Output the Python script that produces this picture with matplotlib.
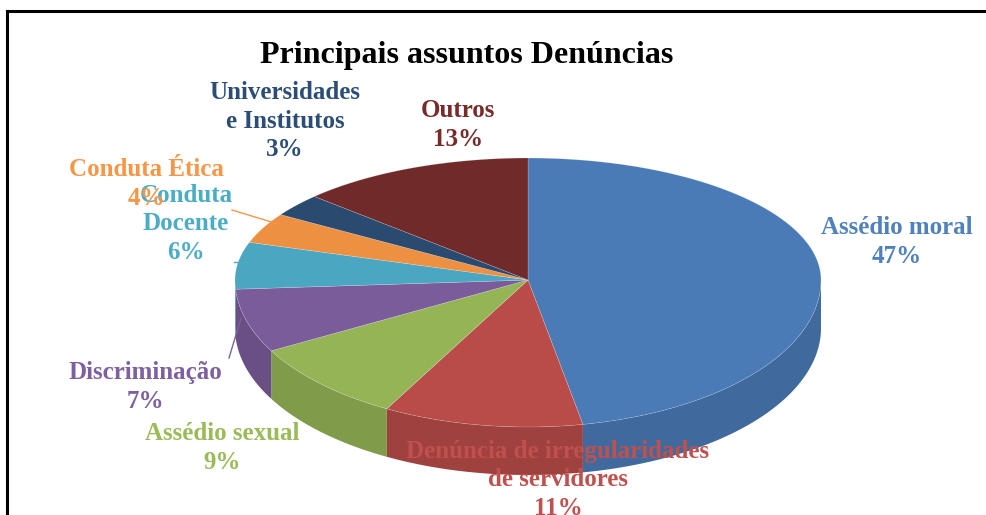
import numpy as np
import matplotlib
matplotlib.use("Agg")
import matplotlib.pyplot as plt
from matplotlib.lines import Line2D
from matplotlib.colors import to_rgb

# data
categories = [
    "Assédio moral",
    "Denúncia de irregularidades\nde servidores",
    "Assédio sexual",
    "Discriminação",
    "Conduta\nDocente",
    "Conduta Ética",
    "Universidades\ne Institutos",
    "Outros",
]
percent = [47, 11, 9, 7, 6, 4, 3, 13]
colors = ["#4a7bb7", "#b94b49", "#95b456", "#7a5c9a",
          "#4aa6c1", "#ee9042", "#2a4a70", "#712a2a"]
label_colors = ["#4f81bd", "#c0504d", "#9bbb59", "#7d60a0",
                "#4bacc6", "#f79646", "#2c4d75", "#772c2a"]
title = "Principais assuntos Denúncias"

W, H = 986, 515
SERIF = ["Liberation Serif", "DejaVu Serif"]


def darker(c, f=0.86):
    r, g, b = to_rgb(c)
    return (r * f, g * f, b * f)


def main():
    fig = plt.figure(figsize=(W / 100, H / 100), dpi=100)
    fig.patch.set_facecolor("white")

    # pie geometry in pixels: apex, radii of the tilted top face, wall depth
    cx, cy = 528, 280
    rx, ry_back, ry_front, depth = 293, 122, 147, 48

    ax = fig.add_axes([(cx - rx) / W, 1 - (cy + ry_front + depth) / H,
                       2 * rx / W, (ry_back + ry_front + depth) / H])
    ax.set_zorder(1)

    wedges, _ = ax.pie(percent, colors=colors, startangle=90, counterclock=False)

    def face_xy(t):
        # map the unit pie onto a perspective-like ellipse (back half flatter)
        s = np.sin(t)
        return rx * np.cos(t), np.where(s > 0, ry_back * s, ry_front * s)

    # side walls for the front half of the pie
    for w in wedges:
        lo, hi = max(w.theta1, -180), min(w.theta2, 0)
        if hi <= lo:
            continue
        t = np.radians(np.linspace(lo, hi, 80))
        xs, ys = face_xy(t)
        ax.fill(np.concatenate([xs, xs[::-1]]),
                np.concatenate([ys, ys[::-1] - depth]),
                color=darker(w.get_facecolor()), lw=0, zorder=1)

    # top faces, built from the wedges that ax.pie laid out
    for w in wedges:
        t = np.radians(np.linspace(w.theta1, w.theta2, 120))
        xs, ys = face_xy(t)
        ax.fill(np.concatenate([[0], xs]), np.concatenate([[0], ys]),
                color=w.get_facecolor(), ec=(1, 1, 1, 0.3), lw=0.4, zorder=2)
        w.remove()

    ax.set_aspect("auto")
    ax.set_xlim(-rx, rx)
    ax.set_ylim(-(ry_front + depth), ry_back)
    ax.axis("off")

    # overlay in pixel coordinates for texts, leader lines and frame
    ov = fig.add_axes([0, 0, 1, 1])
    ov.set_zorder(2)
    ov.set_xlim(0, W)
    ov.set_ylim(H, 0)
    ov.axis("off")

    ov.text(467, 55, title, ha="center", va="center", fontsize=23,
            fontweight="bold", family=SERIF, color="black")

    label_pos = [
        (897, 242),
        (558, 480),
        (222, 448),
        (145, 387),
        (186, 224),
        (146, 184),
        (285, 121),
        (458, 125),
    ]
    for cat, p, col, (x, y) in zip(categories, percent, label_colors, label_pos):
        ov.text(x, y, f"{cat}\n{p}%", ha="center", va="center", fontsize=18,
                fontweight="bold", family=SERIF, color=col, linespacing=1.32)

    # leader lines
    ov.plot([232, 278], [210, 224], color=label_colors[5], lw=1)
    ov.plot([234, 247], [262, 262], color=label_colors[4], lw=1)
    ov.plot([229, 241], [358, 318], color=label_colors[3], lw=1)

    # frame (top and left edges visible)
    fig.add_artist(Line2D([7 / W, 1], [1 - 10.5 / H, 1 - 10.5 / H], color="black", lw=2.2,
                          transform=fig.transFigure))
    fig.add_artist(Line2D([7 / W, 7 / W], [0, 1 - 10.5 / H], color="black", lw=2.2,
                          transform=fig.transFigure))

    fig.savefig("out.png", dpi=100)


if __name__ == "__main__":
    main()
